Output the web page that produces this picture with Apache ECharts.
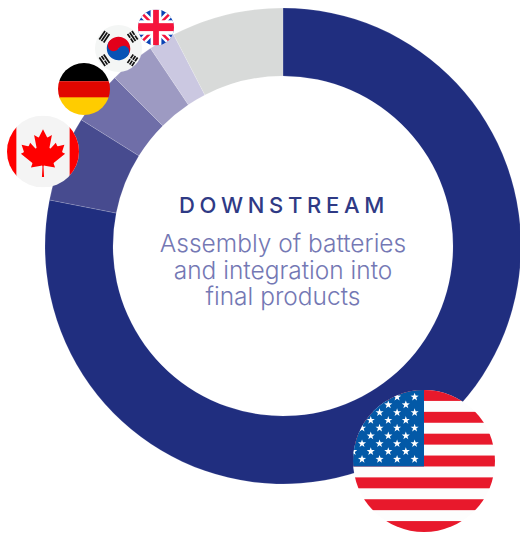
<!DOCTYPE html>
<html>
<head>
<meta charset="utf-8">
<style>
html,body{margin:0;padding:0;background:#fff}
#chart{width:520px;height:533px}
/* the heading is widely tracked; only it uses the 22px size */
#chart text[style*="22px"]{letter-spacing:4.7px}
</style>
<script src="https://cdn.jsdelivr.net/npm/echarts@6/dist/echarts.min.js"></script>
</head>
<body>
<div id="chart"></div>
<script>
// Downstream capacity share by country, clockwise from twelve o'clock
const countries = ['United States', 'Canada', 'Germany', 'South Korea', 'United Kingdom', 'Other'];
const shares = [78.1, 5.8, 3.6, 3.1, 1.8, 7.6];
const sliceColors = ['#202e7f', '#474b8f', '#6f6ea8', '#9d9ac2', '#cbc8e1', '#d8dad9'];
const heading = 'DOWNSTREAM';
const description = 'Assembly of batteries\nand integration into\nfinal products';

// Each flag is a small SVG clipped to a circle of radius 50 in a 100×100 box
function disc(id, body) {
  const svg = '<svg xmlns="http://www.w3.org/2000/svg" xmlns:xlink="http://www.w3.org/1999/xlink" width="300" height="300" viewBox="0 0 100 100">' +
    '<defs><clipPath id="' + id + '"><circle cx="50" cy="50" r="50"/></clipPath></defs>' +
    '<g clip-path="url(#' + id + ')">' + body + '</g></svg>';
  return 'data:image/svg+xml;charset=utf-8,' + encodeURIComponent(svg);
}

function usFlag() {
  const h = 100 / 13;
  let s = '<rect width="100" height="100" fill="#fdfdfd"/>';
  for (let i = 0; i < 13; i += 2) {
    s += '<rect x="0" y="' + (i * h) + '" width="100" height="' + h + '" fill="#e8192c"/>';
  }
  s += '<rect width="50" height="' + (7 * h) + '" fill="#0359a7"/>';
  const star = (cx, cy) => {
    let pts = [];
    for (let k = 0; k < 10; k++) {
      const r = k % 2 ? 1.2 : 3.0, a = -Math.PI / 2 + k * Math.PI / 5;
      pts.push((cx + r * Math.cos(a)).toFixed(2) + ',' + (cy + r * Math.sin(a)).toFixed(2));
    }
    return '<polygon fill="#fff" points="' + pts.join(' ') + '"/>';
  };
  for (let row = 0; row < 9; row++) {
    const cy = 4.9 + row * 5.48;
    const offset = row % 2 ? 6.2 : 0;
    for (let col = 0; col < 5; col++) s += star(43.4 - offset - col * 12.35, cy);
  }
  return disc('us', s);
}

function caFlag() {
  const leaf = 'm-90 2030 45-863a95 95 0 0 0-111-98l-859 151 116-320a65 65 0 0 0-20-73l-941-762 212-99a65 65 0 0 0 34-79l-186-572 542 115a65 65 0 0 0 73-38l105-247 423 454a65 65 0 0 0 111-57l-204-1052 327 189a65 65 0 0 0 91-27l332-652 332 652a65 65 0 0 0 91 27l327-189-204 1052a65 65 0 0 0 111 57l423-454 105 247a65 65 0 0 0 73 38l542-115-186 572a65 65 0 0 0 34 79l212 99-941 762a65 65 0 0 0-20 73l116 320-859-151a95 95 0 0 0-111 98l45 863z';
  return disc('ca',
    '<rect width="100" height="100" fill="#f4f4f4"/>' +
    '<rect width="13" height="100" fill="#ff0000"/><rect x="87" width="13" height="100" fill="#ff0000"/>' +
    '<g transform="translate(50 52) scale(0.0165)"><path fill="#ff0000" d="' + leaf + '"/></g>');
}

function deFlag() {
  return disc('de',
    '<rect width="100" height="35" fill="#000"/>' +
    '<rect y="35" width="100" height="33" fill="#e10600"/>' +
    '<rect y="66" width="100" height="34" fill="#ffcc00"/>');
}

function krFlag() {
  const bars = (x, y, rot, pattern) => {
    let s = '<g transform="translate(' + x + ' ' + y + ') rotate(' + rot + ')" fill="#111">';
    pattern.forEach((broken, i) => {
      const by = -7.5 + i * 5.6;
      if (broken) {
        s += '<rect x="-11" y="' + by + '" width="10" height="3.6"/><rect x="1" y="' + by + '" width="10" height="3.6"/>';
      } else {
        s += '<rect x="-11" y="' + by + '" width="22" height="3.6"/>';
      }
    });
    return s + '</g>';
  };
  return disc('kr',
    '<rect width="100" height="100" fill="#f4f6f5"/>' +
    '<g transform="rotate(33.7 50 50)">' +
    '<path fill="#e2001a" d="M25 50a25 25 0 0 1 50 0z"/>' +
    '<path fill="#0752b5" d="M25 50a25 25 0 0 0 50 0z"/>' +
    '<circle cx="37.5" cy="50" r="12.5" fill="#e2001a"/>' +
    '<circle cx="62.5" cy="50" r="12.5" fill="#0752b5"/></g>' +
    bars(20, 25, -56, [0, 0, 0]) + bars(80, 25, 56, [1, 0, 1]) +
    bars(20, 75, 56, [0, 1, 0]) + bars(80, 75, -56, [1, 1, 1]));
}

function ukFlag() {
  return disc('uk',
    '<rect width="100" height="100" fill="#0b43b5"/>' +
    '<path d="M0 0L100 100M100 0L0 100" stroke="#fff" stroke-width="20"/>' +
    '<path d="M0 0L100 100M100 0L0 100" stroke="#f5143c" stroke-width="7"/>' +
    '<rect x="35" width="30" height="100" fill="#fff"/><rect y="30" width="100" height="40" fill="#fff"/>' +
    '<rect x="42" width="16" height="100" fill="#f5143c"/><rect y="38" width="100" height="22" fill="#f5143c"/>');
}

// Flag badges: centre and radius in page pixels
const flagBadges = [
  { image: caFlag(), cx: 43, cy: 151.5, r: 36 },
  { image: deFlag(), cx: 84, cy: 89, r: 26 },
  { image: krFlag(), cx: 118.5, cy: 48.5, r: 23.5 },
  { image: ukFlag(), cx: 156, cy: 27.5, r: 18 },
  { image: usFlag(), cx: 424, cy: 461, r: 71 }
];

const chart = echarts.init(document.getElementById('chart'), null, { renderer: 'svg', width: 520, height: 533 });
chart.setOption({
  animation: false,
  backgroundColor: '#ffffff',
  series: [{
    type: 'pie',
    center: [283, 246],
    radius: [170, 238],
    startAngle: 90,
    clockwise: true,
    silent: true,
    label: { show: false },
    labelLine: { show: false },
    itemStyle: { borderColor: 'rgba(255,255,255,0.35)', borderWidth: 0.4 },
    data: countries.map((name, i) => ({
      name,
      value: shares[i],
      itemStyle: { color: sliceColors[i] }
    }))
  }],
  graphic: {
    elements: flagBadges.map(f => ({
      type: 'image',
      z: 10,
      silent: true,
      style: { image: f.image, x: f.cx - f.r, y: f.cy - f.r, width: 2 * f.r, height: 2 * f.r }
    })).concat([
      {
        type: 'text',
        z: 10,
        silent: true,
        style: {
          x: 284, y: 205, text: heading, align: 'center', verticalAlign: 'middle',
          font: '500 22px Inter', fill: '#2f3a85'
        }
      },
      {
        type: 'text',
        z: 10,
        silent: true,
        style: {
          x: 283, y: 269.5, text: description, align: 'center', verticalAlign: 'middle',
          font: '300 24.5px Inter', lineHeight: 26.5, fill: '#7478b4'
        }
      }
    ])
  }
});
</script>
</body>
</html>
